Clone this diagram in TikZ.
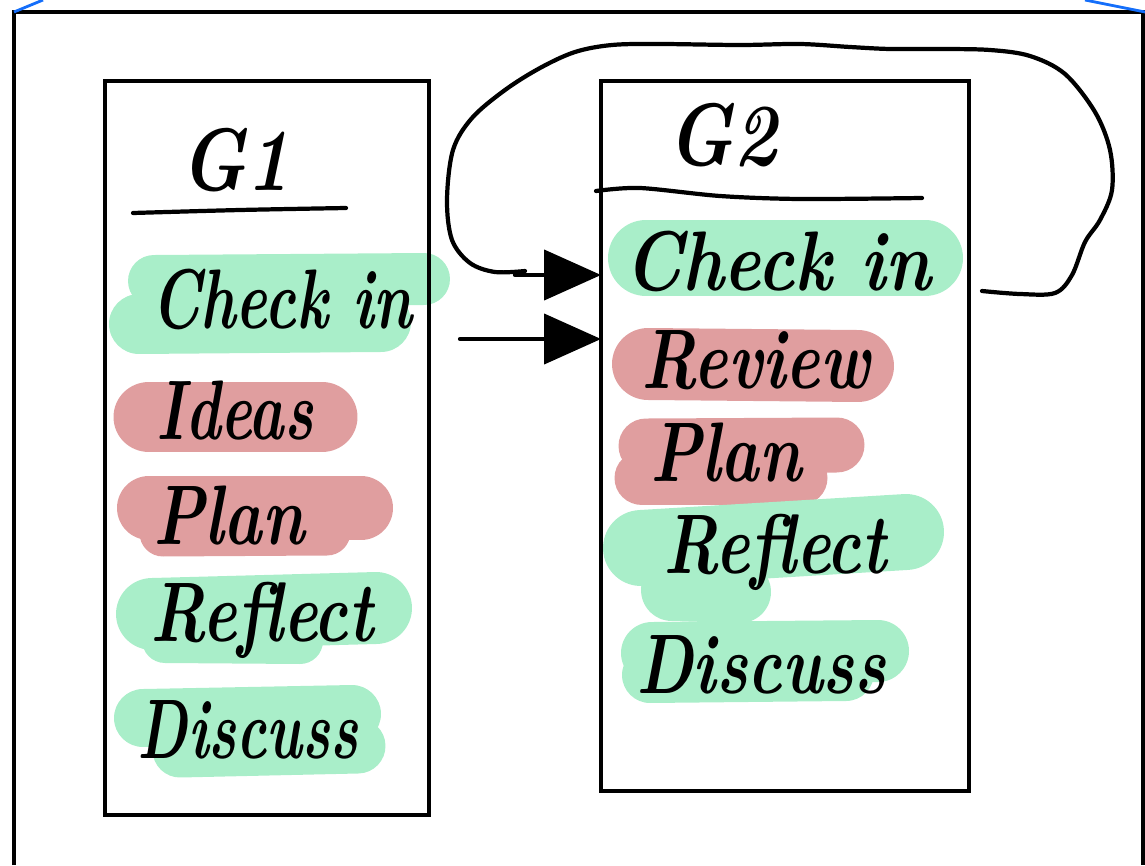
\documentclass[tikz,border=0pt]{standalone}
\usetikzlibrary{arrows.meta}
\definecolor{hlgreen}{RGB}{169,238,201}
\definecolor{hlred}{RGB}{224,158,159}
\definecolor{penblue}{RGB}{20,110,250}
\tikzset{
  ink/.style={line width=2.4pt, line cap=round, line join=round},
  boxstyle/.style={draw, line width=2.4pt, inner sep=0pt, outer sep=0pt},
  hg/.style={draw=hlgreen, line cap=round, line width=#1*0.569pt},
  hr/.style={draw=hlred, line cap=round, line width=#1*0.569pt},
  hand/.style={font=\fontsize{37}{40}\selectfont\bfseries\itshape, inner sep=0pt, yscale=1.3, transform shape},
  title/.style={font=\fontsize{42}{46}\selectfont\bfseries\itshape, inner sep=0pt, yscale=1.2, transform shape},
  arr/.style={ink, -{Triangle[length=1.14cm, width=1.0cm]}},
}
\begin{document}
\begin{tikzpicture}[x=0.02cm, y=-0.02cm]
\useasboundingbox (0,0) rectangle (1145,865);
% outer frame and blue marks
\draw[line width=2.4pt] (14,865) -- (14,12) -- (1143,12) -- (1143,865);
\draw[penblue, line width=1.6pt] (14,12) -- (43,0);
\draw[penblue, line width=1.6pt] (1085,0) -- (1145,12);
% highlights left
\draw[hg=52] (154,281) -- (424,279);
\draw[hg=60] (139,324) -- (381,322);
\draw[hr=71] (149,417) -- (322,417);
\draw[hr=64] (149,508) -- (361,508);
\draw[hr=47] (163,533) -- (327,532);
\draw[hg=72] (152,614) -- (376,608);
\draw[hg=46] (165,640) -- (300,641);
\draw[hg=58] (143,718) -- (352,714);
\draw[hg=55] (180,750) -- (358,746);
% highlights right
\draw[hg=76] (646,258) -- (925,258);
\draw[hr=72] (648,364) -- (858,366);
\draw[hr=55] (646,446) -- (837,445);
\draw[hr=55] (642,478) -- (800,478);
\draw[hg=76] (641,548) -- (906,532);
\draw[hg=62] (672,590) -- (740,592);
\draw[hg=62] (652,653) -- (878,651);
\draw[hg=56] (650,675) -- (846,673);
% boxes
\node[boxstyle, minimum width=6.48cm, minimum height=14.68cm] (g1box) at (267,448) {};
\node[boxstyle, minimum width=7.36cm, minimum height=14.2cm] (g2box) at (785,436) {};
% titles and underlines
\node[title] (g1) at (235,160) {G1};
\node[title] (g2) at (722,135) {G2};
\draw[ink] plot[smooth] coordinates {(133,213) (240,210) (346,208)};
\draw[ink] plot[smooth] coordinates {(596,191) (640,188) (720,196) (800,199) (922,198)};
% left texts
\node[hand, xscale=0.92] (l1) at (282,300) {Check in};
\node[hand, xscale=0.92] (l2) at (235,410) {Ideas};
\node[hand] (l3) at (229,515) {Plan};
\node[hand] (l4) at (262,620) {Reflect};
\node[hand, xscale=0.88] (l5) at (248,730) {Discuss};
% right texts
\node[hand, xscale=1.08] (r1) at (778,262) {Check in};
\node[hand] (r2) at (756,360) {Review};
\node[hand] (r3) at (726,452) {Plan};
\node[hand] (r4) at (775,552) {Reflect};
\node[hand] (r5) at (761,665) {Discuss};
% connectors
\coordinate (loopstart) at (982,291);
\coordinate (loopend) at (525,271);
\coordinate (shaft1) at (515,275);
\coordinate (shaft2) at (460,339);
\draw[ink] plot[smooth, tension=0.55] coordinates {(loopstart) (1020,294) (1055,293) (1072,275) (1085,242) (1100,220) (1112,190) (1110,150) (1095,112) (1065,74) (1030,56) (990,50) (940,49) (890,49) (850,47) (800,44) (740,45) (660,44) (612,45) (575,52) (540,68) (505,90) (472,118) (453,150) (447,200) (452,240) (470,263) (495,272) (loopend)};
\draw[arr] (shaft1) -- (g2box.west |- shaft1);
\draw[arr] (shaft2) -- (g2box.west |- shaft2);
\end{tikzpicture}
\end{document}
